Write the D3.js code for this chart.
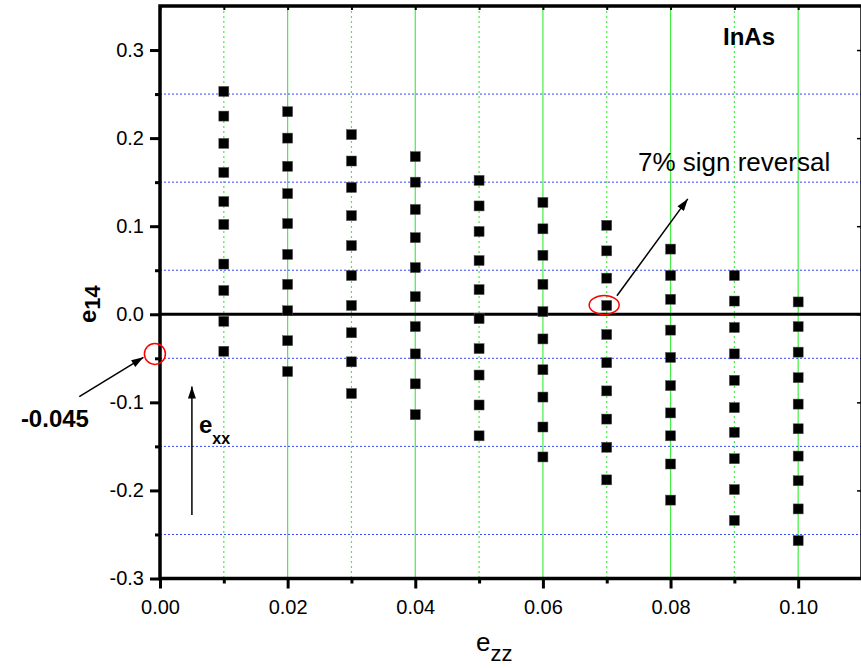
<!DOCTYPE html>
<html>
<head>
<meta charset="utf-8">
<script src="https://cdn.jsdelivr.net/npm/d3@7"></script>
<style>
body { margin: 0; background: #fff; }
svg { display: block; font-family: Arial, "Liberation Sans", sans-serif; }
</style>
</head>
<body>
<svg width="861" height="668"></svg>
<script>
// strain e_zz columns and the e14 values read for each one
var ezz = [0.01, 0.02, 0.03, 0.04, 0.05, 0.06, 0.07, 0.08, 0.09, 0.10];
var e14_001 = [0.253, 0.225, 0.194, 0.161, 0.128, 0.102, 0.057, 0.027, -0.008, -0.042];
var e14_002 = [0.230, 0.200, 0.168, 0.137, 0.103, 0.068, 0.034, 0.004, -0.030, -0.065];
var e14_003 = [0.204, 0.174, 0.144, 0.112, 0.078, 0.044, 0.010, -0.021, -0.054, -0.090];
var e14_004 = [0.179, 0.150, 0.119, 0.087, 0.053, 0.020, -0.014, -0.045, -0.079, -0.114];
var e14_005 = [0.152, 0.123, 0.094, 0.061, 0.028, -0.005, -0.039, -0.069, -0.103, -0.138];
var e14_006 = [0.127, 0.097, 0.067, 0.034, 0.003, -0.028, -0.063, -0.094, -0.128, -0.162];
var e14_007 = [0.101, 0.072, 0.041, 0.010, -0.023, -0.055, -0.087, -0.119, -0.151, -0.188];
var e14_008 = [0.074, 0.044, 0.017, -0.018, -0.049, -0.081, -0.112, -0.138, -0.170, -0.211];
var e14_009 = [0.044, 0.015, -0.015, -0.045, -0.075, -0.106, -0.134, -0.164, -0.199, -0.234];
var e14_010 = [0.014, -0.014, -0.043, -0.072, -0.102, -0.130, -0.161, -0.189, -0.221, -0.257];
var e14cols = [e14_001, e14_002, e14_003, e14_004, e14_005, e14_006, e14_007, e14_008, e14_009, e14_010];

var xMajor = [0, 0.02, 0.04, 0.06, 0.08, 0.10];
var xMinor = [0.01, 0.03, 0.05, 0.07, 0.09];
var yMajor = [-0.3, -0.2, -0.1, 0.0, 0.1, 0.2, 0.3];
var yMinor = [-0.25, -0.15, -0.05, 0.05, 0.15, 0.25];

var points = [];
ezz.forEach(function(x, i) {
	e14cols[i].forEach(function(v) { points.push({x: x, y: v}); });
});

var svg = d3.select("svg");
var x = d3.scaleLinear().domain([0, 0.11]).range([160, 862]);
var y = d3.scaleLinear().domain([-0.3, 0.35]).range([578.5, 6]);
var minus = function(s) { return s.replace("\u2212", "-"); };

var defs = svg.append("defs");
defs.append("marker").attr("id", "head")
	.attr("viewBox", "0 0 12 8").attr("refX", 12).attr("refY", 4)
	.attr("markerWidth", 13).attr("markerHeight", 8)
	.attr("markerUnits", "userSpaceOnUse").attr("orient", "auto")
	.append("path").attr("d", "M0,0 L12,4 L0,8 Z").attr("fill", "#000");

// grid
svg.append("g").selectAll("line").data(xMajor.slice(1).concat(xMinor)).enter().append("line")
	.attr("x1", function(d) { return x(d); }).attr("x2", function(d) { return x(d); })
	.attr("y1", y(0.35)).attr("y2", y(-0.3))
	.attr("stroke", "#44ee44").attr("stroke-width", 1.2)
	.attr("stroke-dasharray", function(d) { return xMinor.indexOf(d) >= 0 ? "2,3" : null; });

svg.append("g").selectAll("line").data(yMinor).enter().append("line")
	.attr("x1", x(0)).attr("x2", x(0.11))
	.attr("y1", function(d) { return y(d); }).attr("y2", function(d) { return y(d); })
	.attr("stroke", "#3344ff").attr("stroke-width", 1)
	.attr("stroke-dasharray", "2,2");

svg.append("line").attr("x1", x(0)).attr("x2", x(0.11)).attr("y1", y(0)).attr("y2", y(0))
	.attr("stroke", "#000").attr("stroke-width", 3);

// axes
function styleAxis(g, w) {
	g.select(".domain").remove();
	g.selectAll(".tick line").attr("stroke", "#000").attr("stroke-width", w);
	g.selectAll("text").attr("fill", "#000").style("font-size", "20px");
}
svg.append("g").attr("transform", "translate(" + x(0) + ",0)")
	.call(d3.axisLeft(y).tickValues(yMajor).tickSize(10).tickPadding(6)
		.tickFormat(function(d) { return minus(d3.format(".1f")(d)); }))
	.call(styleAxis, 3);
svg.append("g").attr("transform", "translate(" + x(0) + ",0)")
	.call(d3.axisLeft(y).tickValues(yMinor).tickSize(5).tickFormat(""))
	.call(styleAxis, 3);
svg.append("g").attr("transform", "translate(" + x(0.11) + ",0)")
	.call(d3.axisRight(y).tickValues(yMajor).tickSize(-5).tickFormat(""))
	.call(styleAxis, 1.5);
svg.append("g").attr("transform", "translate(0," + y(-0.3) + ")")
	.call(d3.axisBottom(x).tickValues(xMajor).tickSize(10).tickPadding(11)
		.tickFormat(d3.format(".2f")))
	.call(styleAxis, 3);
svg.append("g").attr("transform", "translate(0," + y(-0.3) + ")")
	.call(d3.axisBottom(x).tickValues(xMinor).tickSize(5).tickFormat(""))
	.call(styleAxis, 3);
svg.append("g").attr("transform", "translate(0," + y(0.35) + ")")
	.call(d3.axisTop(x).tickValues(xMajor.concat(xMinor)).tickSize(-4).tickFormat(""))
	.call(styleAxis, 2);

svg.append("rect").attr("x", x(0)).attr("y", y(0.35))
	.attr("width", x(0.11) - x(0)).attr("height", y(-0.3) - y(0.35))
	.attr("fill", "none").attr("stroke", "#000").attr("stroke-width", 3.5);

// data squares
svg.append("g").selectAll("rect").data(points).enter().append("rect")
	.attr("x", function(d) { return x(d.x) - 5; })
	.attr("y", function(d) { return y(d.y) - 5; })
	.attr("width", 10).attr("height", 10)
	.attr("fill", "#000").attr("stroke", "#555").attr("stroke-width", 0.5);

// axis titles
var xt = svg.append("text").attr("x", 476).attr("y", 651).style("font-size", "26px");
xt.append("tspan").text("e");
xt.append("tspan").attr("dy", 10).style("font-size", "22px").text("zz");

var yt = svg.append("text").attr("transform", "translate(96,323) rotate(-90)")
	.style("font-size", "24px").style("font-weight", "bold");
yt.append("tspan").text("e");
yt.append("tspan").attr("dy", 4).style("font-size", "22px").text("14");

// annotations
svg.append("text").attr("x", x(0.0923)).attr("y", y(0.3057))
	.attr("text-anchor", "middle").style("font-size", "24px").style("font-weight", "bold").text("InAs");

svg.append("text").attr("x", x(0.0749)).attr("y", y(0.1627))
	.style("font-size", "26px").text("7% sign reversal");

svg.append("line").attr("x1", x(0.0716)).attr("y1", y(0.021))
	.attr("x2", x(0.0827)).attr("y2", y(0.131))
	.attr("stroke", "#000").attr("stroke-width", 1.5).attr("marker-end", "url(#head)");

svg.append("ellipse").attr("cx", x(0.0696)).attr("cy", y(0.0105)).attr("rx", 15).attr("ry", 9.5)
	.attr("fill", "none").attr("stroke", "#ff0000").attr("stroke-width", 1.5);

svg.append("ellipse").attr("cx", x(-0.0008)).attr("cy", y(-0.045)).attr("rx", 10.5).attr("ry", 10.5)
	.attr("fill", "none").attr("stroke", "#ff0000").attr("stroke-width", 1.5);

svg.append("line").attr("x1", x(-0.01265)).attr("y1", y(-0.0936))
	.attr("x2", x(-0.0026)).attr("y2", y(-0.0489))
	.attr("stroke", "#000").attr("stroke-width", 1.5).attr("marker-end", "url(#head)");

svg.append("text").attr("x", x(-0.0218)).attr("y", y(-0.1276))
	.style("font-size", "24px").style("font-weight", "bold").text("-0.045");

svg.append("line").attr("x1", x(0.005)).attr("y1", y(-0.228))
	.attr("x2", x(0.005)).attr("y2", y(-0.082))
	.attr("stroke", "#000").attr("stroke-width", 1.5).attr("marker-end", "url(#head)");

var ex = svg.append("text").attr("x", x(0.0061)).attr("y", y(-0.1348))
	.style("font-size", "24px").style("font-weight", "bold");
ex.append("tspan").text("e");
ex.append("tspan").attr("dy", 11).style("font-size", "16px").text("xx");
</script>
</body>
</html>
